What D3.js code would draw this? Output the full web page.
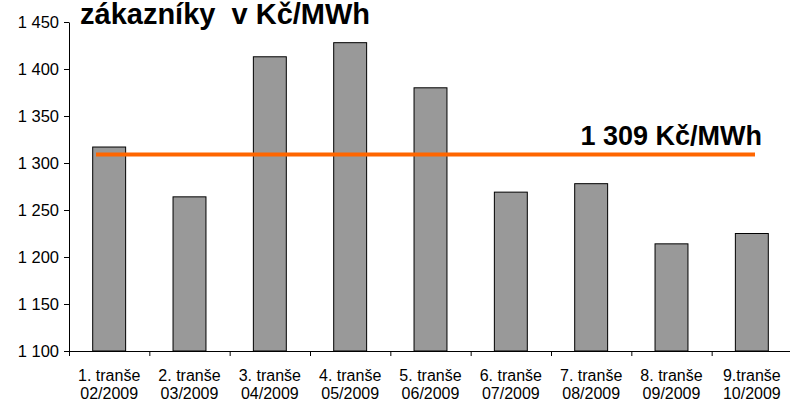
<!DOCTYPE html>
<html>
<head>
<script src="https://d3js.org/d3.v7.min.js"></script>
<style>body{margin:0;background:#fff}</style>
</head>
<body>
<svg width="790" height="404"></svg>
<script>
var categories = ['1. tranše|02/2009','2. tranše|03/2009','3. tranše|04/2009','4. tranše|05/2009','5. tranše|06/2009','6. tranše|07/2009','7. tranše|08/2009','8. tranše|09/2009','9.tranše|10/2009'];
var prices = [1317, 1264, 1413, 1428, 1380, 1269, 1278, 1214, 1225];
var average = 1309;
var yTicks = [1100, 1150, 1200, 1250, 1300, 1350, 1400, 1450];

var font = "'Liberation Sans', Arial, sans-serif";
var svg = d3.select('svg');
var x = d3.scaleBand().domain(categories).range([69, 792]).paddingInner(0.59).paddingOuter(0.295);
var y = d3.scaleLinear().domain([1100, 1450]).range([351, 22]);
var fmt = function(v){ return String(v).replace(/\B(?=(\d{3})+$)/, ' '); };

svg.selectAll('rect').data(prices).enter().append('rect')
	.attr('x', (d, i) => x(categories[i]))
	.attr('y', d => y(d))
	.attr('width', x.bandwidth())
	.attr('height', d => y(1100) - y(d))
	.attr('fill', '#999999').attr('stroke', '#000').attr('stroke-width', 1);

var ya = svg.append('g').attr('transform', 'translate(69,0)')
	.call(d3.axisLeft(y).tickValues(yTicks).tickFormat(fmt).tickSize(5).tickSizeOuter(0));
var xa = svg.append('g').attr('transform', 'translate(0,351)')
	.call(d3.axisBottom(d3.scaleLinear().domain([0, 9]).range([69, 792])).ticks(9).tickSize(5).tickFormat('').tickSizeOuter(0));
[ya, xa].forEach(a => { a.selectAll('path,line').attr('stroke', '#000'); });
ya.selectAll('text').attr('font-family', font).attr('font-size', 16.5).attr('fill', '#000').attr('dx', -2);

svg.append('g').selectAll('text').data(categories).enter().append('text')
	.attr('font-family', font).attr('font-size', 16).attr('text-anchor', 'middle')
	.each(function(d){
		var p = d.split('|'), cx = x(d) + x.bandwidth() / 2;
		d3.select(this).append('tspan').attr('x', cx).attr('y', 381).text(p[0]);
		d3.select(this).append('tspan').attr('x', cx).attr('y', 399).text(p[1]);
	});

svg.append('line').attr('x1', 96).attr('x2', 755).attr('y1', y(average)).attr('y2', y(average))
	.attr('stroke', '#ff6600').attr('stroke-width', 4);
svg.append('text').attr('x', 762).attr('y', 145).attr('text-anchor', 'end')
	.attr('font-family', font).attr('font-weight', 'bold').attr('font-size', 27)
	.text(fmt(average) + ' Kč/MWh');
svg.append('text').attr('x', 80).attr('y', 24).attr('xml:space', 'preserve').style('white-space', 'pre')
	.attr('font-family', font).attr('font-weight', 'bold').attr('font-size', 29)
	.text('zákazníky  v Kč/MWh');
</script>
</body>
</html>
